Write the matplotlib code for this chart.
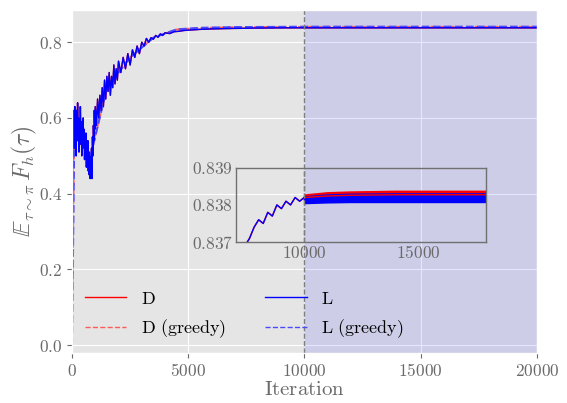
import numpy as np
import matplotlib
matplotlib.use("Agg")
import matplotlib.pyplot as plt
from matplotlib.ticker import FuncFormatter

# pre-training curve (shared by D and L up to 10000)
it_pre = [0, 20, 40, 60, 80, 100, 120, 140, 160, 180, 200, 220, 240, 260, 280, 300,
          320, 340, 360, 380, 400, 420, 440, 460, 480, 500, 520, 540, 560, 580, 600,
          620, 640, 660, 680, 700, 720, 740, 760, 780, 800, 820, 840, 860, 880, 900,
          920, 940, 960, 980, 1000, 1050, 1100, 1150, 1200, 1250, 1300, 1350, 1400,
          1450, 1500, 1550, 1600, 1650, 1700, 1750, 1800, 1850, 1900, 1950, 2000,
          2100, 2200, 2300, 2400, 2500, 2600, 2700, 2800, 2900, 3000, 3100, 3200,
          3300, 3400, 3500, 3600, 3700, 3800, 3900, 4000, 4200, 4400, 4600, 4800,
          5000, 5500, 6000, 6500, 7000, 7300, 7600, 7800, 8000, 8200, 8400, 8600,
          8800, 9000, 9200, 9400, 9600, 9800, 10000]
val_pre = [0.0, 0.45, 0.60, 0.55, 0.62, 0.52, 0.63, 0.56, 0.61, 0.50, 0.62, 0.54,
           0.64, 0.55, 0.60, 0.51, 0.58, 0.53, 0.63, 0.55, 0.59, 0.50, 0.57, 0.52,
           0.60, 0.53, 0.57, 0.49, 0.55, 0.50, 0.56, 0.47, 0.53, 0.48, 0.54, 0.46,
           0.51, 0.45, 0.50, 0.44, 0.49, 0.45, 0.52, 0.44, 0.55, 0.50, 0.58, 0.54,
           0.62, 0.57, 0.63, 0.58, 0.65, 0.60, 0.66, 0.62, 0.68, 0.63, 0.70, 0.65,
           0.71, 0.67, 0.72, 0.66, 0.71, 0.68, 0.74, 0.69, 0.73, 0.70, 0.75, 0.72,
           0.76, 0.73, 0.77, 0.74, 0.78, 0.76, 0.79, 0.77, 0.80, 0.79, 0.81, 0.80,
           0.812, 0.808, 0.818, 0.813, 0.822, 0.818, 0.825, 0.823, 0.828, 0.829, 0.831,
           0.832, 0.834, 0.8352, 0.8360, 0.8366, 0.8368, 0.8371, 0.8374, 0.8376,
           0.8375, 0.8378, 0.8377, 0.8380, 0.8379, 0.8381, 0.8380, 0.8382, 0.8381,
           0.8382]

# fine-tuning phase (10000-20000): noise bands
it_post = [10000, 11000, 12000, 14000, 16000, 18000, 20000]
L_low = [0.83803, 0.83805, 0.83806, 0.83806, 0.83806, 0.83806, 0.83806]
L_high = [0.83825, 0.83830, 0.83832, 0.83833, 0.83833, 0.83833, 0.83833]
D_low = [0.83810, 0.83812, 0.83814, 0.83815, 0.83815, 0.83815, 0.83815]
D_high = [0.83830, 0.83836, 0.83838, 0.83840, 0.83840, 0.83840, 0.83840]

# greedy evaluation
it_greedy = [0, 100, 800, 1500, 2500, 3500, 4500, 5500, 7000, 10000, 20000]
val_greedy = [0.0, 0.58, 0.50, 0.68, 0.76, 0.812, 0.834, 0.838, 0.840, 0.841, 0.841]

labels = ["D", "D (greedy)", "L", "L (greedy)"]

plt.style.use("ggplot")
plt.rcParams["mathtext.fontset"] = "cm"
plt.rcParams["font.family"] = ["DejaVu Serif"]
gray = "#6a6a6a"
red_g = "#ff5a5a"
blue_g = "#4a4aff"

fig = plt.figure(figsize=(5.67, 4.03), dpi=100)
ax = fig.add_axes([0.127, 0.124, 0.82, 0.851])

L_mid = [(a + b) / 2 for a, b in zip(L_low, L_high)]
D_mid = [(a + b) / 2 for a, b in zip(D_low, D_high)]


def draw(a):
    a.plot(it_greedy, val_greedy, color=red_g, lw=1.2, ls="--")
    a.plot(it_pre, val_pre, color="red", lw=1.0)
    a.plot(it_post, D_mid, color="red", lw=1.0)
    a.fill_between(it_post, D_low, D_high, color="red", lw=0)
    a.plot(it_greedy, val_greedy, color=blue_g, lw=1.5, ls="--")
    a.plot(it_pre, val_pre, color="blue", lw=1.0)
    a.plot(it_post, L_mid, color="blue", lw=1.0)
    a.fill_between(it_post, L_low, L_high, color="blue", lw=0)


draw(ax)
ax.axvspan(10000, 20000, color="blue", alpha=0.1, lw=0)
ax.axvline(10000, color="gray", ls="--", lw=1.0)
ax.set_xlim(0, 20000)
ax.set_ylim(-0.021, 0.885)
ax.set_xticks([0, 5000, 10000, 15000, 20000])
ax.set_yticks([0.0, 0.2, 0.4, 0.6, 0.8])
ax.xaxis.set_major_formatter(FuncFormatter(lambda v, p: r"$%d$" % v))
ax.yaxis.set_major_formatter(FuncFormatter(lambda v, p: r"$%.1f$" % v))
ax.tick_params(labelsize=12.5, colors=gray, labelcolor=gray)
ax.set_xlabel(r"$\mathrm{Iteration}$", fontsize=15, color=gray, labelpad=0)
ax.set_ylabel(r"$\mathbb{E}_{\tau\sim\pi}\, F_h(\tau)$", fontsize=17, color=gray, labelpad=0)

# legend handles
hd, = ax.plot([], [], color="red", lw=1.0)
hdg, = ax.plot([], [], color=red_g, lw=1.0, ls="--")
hl, = ax.plot([], [], color="blue", lw=1.0)
hlg, = ax.plot([], [], color=blue_g, lw=1.0, ls="--")
ax.legend([hd, hdg, hl, hlg], [r"$\mathrm{%s}$" % s.replace(" ", r"\ ") for s in labels],
          ncol=2, loc="lower left", frameon=False, fontsize=13,
          handlelength=2.3, handletextpad=0.8, columnspacing=2.2,
          borderaxespad=0.3, labelspacing=0.55)

# inset
axin = fig.add_axes([0.416, 0.3995, 0.442, 0.184])
draw(axin)
axin.axvline(10000, color="gray", ls="--", lw=1.0)
axin.set_facecolor("none")
axin.grid(False)
axin.set_xlim(7000, 18000)
axin.set_ylim(0.837, 0.839)
axin.set_xticks([10000, 15000])
axin.set_yticks([0.837, 0.838, 0.839])
axin.xaxis.set_major_formatter(FuncFormatter(lambda v, p: r"$%d$" % v))
axin.yaxis.set_major_formatter(FuncFormatter(lambda v, p: r"$%.3f$" % v))
axin.tick_params(labelsize=12.5, colors=gray, labelcolor=gray, length=0, pad=2)
for s in axin.spines.values():
    s.set_visible(True)
    s.set_color("#707070")
    s.set_linewidth(1.0)

fig.savefig("out.png", dpi=100)
